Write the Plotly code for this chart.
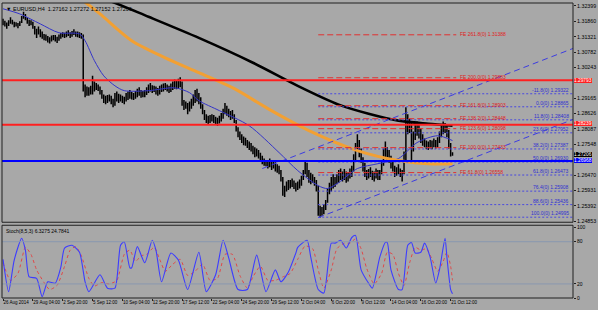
import plotly.graph_objects as go

# ---------------- data (EURUSD H4, bar index 0 = 26 Aug 2014 08:00) ----------------
bar_low = [
    1.3172, 1.3168, 1.3160, 1.3170,
    1.3178, 1.3175, 1.3165, 1.3168, 1.3162, 1.3170,
    1.3180, 1.3195, 1.3190, 1.3178, 1.3170, 1.3172,
    1.3160, 1.3140, 1.3128, 1.3140, 1.3130, 1.3125,
    1.3120, 1.3118, 1.3112, 1.3108, 1.3115, 1.3120,
    1.3115, 1.3110, 1.3118, 1.3125, 1.3130, 1.3128,
    1.3130, 1.3135, 1.3128, 1.3132, 1.3138, 1.3132,
    1.3130, 1.3128, 1.3125, 1.2940, 1.2920, 1.2925,
    1.2925, 1.2930, 1.2930, 1.2940, 1.2945, 1.2942,
    1.2930, 1.2915, 1.2900, 1.2895, 1.2900, 1.2905,
    1.2895, 1.2885, 1.2890, 1.2905, 1.2900, 1.2905,
    1.2900, 1.2895, 1.2905, 1.2910, 1.2915, 1.2912,
    1.2910, 1.2915, 1.2920, 1.2925, 1.2918, 1.2920,
    1.2920, 1.2928, 1.2935, 1.2940, 1.2935, 1.2938,
    1.2930, 1.2925, 1.2930, 1.2938, 1.2940, 1.2945,
    1.2940, 1.2935, 1.2938, 1.2945, 1.2950, 1.2948,
    1.2950, 1.2955, 1.2890, 1.2875, 1.2880, 1.2860,
    1.2870, 1.2880, 1.2890, 1.2900, 1.2905, 1.2895,
    1.2880, 1.2860, 1.2840, 1.2830, 1.2825, 1.2830,
    1.2835, 1.2830, 1.2825, 1.2820, 1.2828, 1.2835,
    1.2845, 1.2860, 1.2855, 1.2850, 1.2840, 1.2845,
    1.2830, 1.2800, 1.2780, 1.2770, 1.2760, 1.2752,
    1.2750, 1.2742, 1.2735, 1.2730, 1.2720, 1.2710,
    1.2712, 1.2705, 1.2695, 1.2685, 1.2680, 1.2678,
    1.2670, 1.2675, 1.2665, 1.2670, 1.2660, 1.2655,
    1.2650, 1.2625, 1.2575, 1.2570, 1.2590, 1.2595,
    1.2600, 1.2605, 1.2598, 1.2590, 1.2595, 1.2600,
    1.2610, 1.2630, 1.2650, 1.2640, 1.2620, 1.2615,
    1.2620, 1.2610, 1.2590, 1.2505, 1.2498, 1.2505,
    1.2510, 1.2525, 1.2550, 1.2580, 1.2590, 1.2600,
    1.2605, 1.2615, 1.2620, 1.2630, 1.2625, 1.2630,
    1.2620, 1.2625, 1.2635, 1.2640, 1.2660, 1.2700,
    1.2730, 1.2710, 1.2690, 1.2660, 1.2640, 1.2630,
    1.2635, 1.2640, 1.2630, 1.2625, 1.2635, 1.2630,
    1.2630, 1.2650, 1.2680, 1.2710, 1.2700, 1.2690,
    1.2670, 1.2660, 1.2640, 1.2645, 1.2650, 1.2640,
    1.2625, 1.2650, 1.2700, 1.2790, 1.2795, 1.2700,
    1.2730, 1.2770, 1.2785, 1.2775, 1.2760, 1.2750,
    1.2745, 1.2738, 1.2735, 1.2740, 1.2738, 1.2745,
    1.2740, 1.2745, 1.2760, 1.2780, 1.2790, 1.2795,
    1.2780, 1.2740, 1.2712, 1.2715,
]
bar_high = [
    1.3195, 1.3188, 1.3182, 1.3190,
    1.3200, 1.3192, 1.3185, 1.3183, 1.3180, 1.3186,
    1.3205, 1.3220, 1.3212, 1.3200, 1.3192, 1.3190,
    1.3185, 1.3170, 1.3160, 1.3168, 1.3158, 1.3150,
    1.3142, 1.3140, 1.3135, 1.3130, 1.3136, 1.3138,
    1.3138, 1.3132, 1.3140, 1.3145, 1.3148, 1.3146,
    1.3150, 1.3155, 1.3148, 1.3152, 1.3158, 1.3150,
    1.3150, 1.3148, 1.3145, 1.3140, 1.2965, 1.2958,
    1.2955, 1.2960, 1.2995, 1.2975, 1.2970, 1.2965,
    1.2958, 1.2945, 1.2930, 1.2925, 1.2928, 1.2930,
    1.2925, 1.2915, 1.2935, 1.2940, 1.2932, 1.2930,
    1.2925, 1.2922, 1.2935, 1.2940, 1.2945, 1.2938,
    1.2935, 1.2942, 1.2950, 1.2955, 1.2945, 1.2942,
    1.2945, 1.2955, 1.2965, 1.2970, 1.2962, 1.2960,
    1.2958, 1.2952, 1.2960, 1.2965, 1.2968, 1.2970,
    1.2965, 1.2960, 1.2968, 1.2975, 1.2982, 1.2978,
    1.2985, 1.2990, 1.2975, 1.2910, 1.2905, 1.2900,
    1.2905, 1.2915, 1.2930, 1.2945, 1.2950, 1.2935,
    1.2920, 1.2895, 1.2875, 1.2860, 1.2855, 1.2858,
    1.2860, 1.2858, 1.2852, 1.2848, 1.2855, 1.2865,
    1.2880, 1.2900, 1.2890, 1.2880, 1.2872, 1.2875,
    1.2860, 1.2840, 1.2815, 1.2800, 1.2790, 1.2782,
    1.2778, 1.2770, 1.2765, 1.2760, 1.2750, 1.2745,
    1.2740, 1.2735, 1.2725, 1.2715, 1.2705, 1.2700,
    1.2700, 1.2705, 1.2695, 1.2700, 1.2692, 1.2685,
    1.2680, 1.2665, 1.2640, 1.2610, 1.2625, 1.2630,
    1.2630, 1.2635, 1.2628, 1.2620, 1.2625, 1.2632,
    1.2645, 1.2665, 1.2700, 1.2690, 1.2665, 1.2655,
    1.2650, 1.2640, 1.2630, 1.2610, 1.2540, 1.2535,
    1.2545, 1.2560, 1.2600, 1.2620, 1.2640, 1.2650,
    1.2640, 1.2650, 1.2665, 1.2670, 1.2660, 1.2668,
    1.2660, 1.2658, 1.2670, 1.2680, 1.2720, 1.2760,
    1.2790, 1.2770, 1.2740, 1.2710, 1.2690, 1.2665,
    1.2668, 1.2675, 1.2662, 1.2660, 1.2670, 1.2665,
    1.2665, 1.2700, 1.2740, 1.2765, 1.2745, 1.2735,
    1.2715, 1.2695, 1.2680, 1.2675, 1.2685, 1.2670,
    1.2665, 1.2730, 1.2885, 1.2860, 1.2845, 1.2835,
    1.2800, 1.2830, 1.2835, 1.2825, 1.2810, 1.2790,
    1.2775, 1.2768, 1.2765, 1.2770, 1.2768, 1.2775,
    1.2770, 1.2780, 1.2800, 1.2825, 1.2835, 1.2830,
    1.2825, 1.2805, 1.2760, 1.2727,
]

x_tick_bars = [0, 16, 32, 48, 64, 80, 96, 112, 128, 144, 160, 176, 192, 208, 224, 240]
x_tick_labels = ["26 Aug 2014", "29 Aug 04:00", "2 Sep 20:00", "5 Sep 12:00", "10 Sep 04:00",
                 "12 Sep 20:00", "17 Sep 12:00", "22 Sep 04:00", "24 Sep 20:00", "29 Sep 12:00",
                 "2 Oct 04:00", "6 Oct 20:00", "9 Oct 12:00", "14 Oct 04:00", "16 Oct 20:00",
                 "21 Oct 12:00"]
price_ticks = [1.24853, 1.25392, 1.25931, 1.26470, 1.27009, 1.27548, 1.28087, 1.28626,
               1.29165, 1.29704, 1.30243, 1.30782, 1.31321, 1.31860, 1.32399]
# ticks covered by the coloured price boxes on the axis
price_ticks_covered = [1.27009, 1.29704]

ma_black_x = [44, 57, 78, 105, 134, 158, 180, 196, 212, 228, 241]
ma_black = [1.3283, 1.3258, 1.3202, 1.3128, 1.3041, 1.2960, 1.2894, 1.2862, 1.2838, 1.2827, 1.2820]
ma_orange_x = [35, 43, 52, 69, 87, 105, 124, 142, 164, 190, 212, 228, 241]
ma_orange = [1.3293, 1.3258, 1.3212, 1.3118, 1.3058, 1.3006, 1.2950, 1.2880, 1.2803, 1.2733,
             1.2698, 1.2687, 1.2687]
ma_blue_x = [0, 9, 20, 30, 41, 44, 49, 54, 60, 65, 78, 92, 100, 105, 116, 132, 148, 158, 169,
             174, 180, 190, 201, 212, 222, 233, 241]
ma_blue = [1.3230, 1.3212, 1.3177, 1.3146, 1.3142, 1.3118, 1.3048, 1.2995, 1.2960, 1.2943,
           1.2943, 1.2953, 1.2936, 1.2908, 1.2873, 1.2820, 1.2726, 1.2663, 1.2610, 1.2600,
           1.2621, 1.2670, 1.2687, 1.2705, 1.2761, 1.2785, 1.2768]

red_levels = [1.29793, 1.28239]
blue_level = 1.26968
last_price = 1.27206

fib_from_bar = 169
fib_high = 1.28865
fib_low = 1.24995
fib_levels = [-11.8, 0.0, 11.8, 23.6, 38.2, 50.0, 61.8, 76.4, 88.6, 100.0]

fe_from_bar = 169
fe_to_bar = 243
fe_levels = [61.8, 100.0, 123.6, 138.2, 161.8, 200.0, 261.8]
fe_prices = [1.26558, 1.27433, 1.28098, 1.28448, 1.28903, 1.29883, 1.31388]

channel_upper_x = [139, 306]
channel_upper = [1.2670, 1.3092]
channel_lower_x = [169, 306]
channel_lower = [1.2498, 1.2843]

stoch_k_x = [0, 3, 6, 10, 12, 14, 18, 21, 24, 28, 31, 33, 37, 41, 44, 46, 52, 56, 60, 63,
             65, 68, 69, 72, 76, 80, 82, 85, 90, 94, 99, 105, 109, 114, 118, 121, 126, 131, 136, 141,
             146, 149, 153, 157, 158, 163, 165, 169, 172, 176, 178, 181, 184, 187, 189, 192, 196, 198,
             202, 205, 206, 208, 212, 214, 217, 219, 221, 224, 226, 229, 232, 234, 237, 238, 240, 241]
stoch_k = [55, 9, 54, 85, 68, 30, 28, 2, 23, 21, 44, 71, 75, 65, 23, 9, 33, 14, 14, 75,
           80, 43, 43, 73, 50, 82, 68, 23, 64, 54, 12, 65, 9, 33, 82, 57, 12, 12, 61, 9,
           40, 23, 37, 64, 72, 82, 58, 12, 7, 78, 78, 82, 71, 86, 89, 40, 21, 14, 58, 79,
           79, 40, 12, 12, 75, 79, 64, 65, 78, 58, 21, 40, 85, 58, 12, 6]
stoch_d_x = [0, 4, 8, 12, 15, 18, 22, 25, 29, 33, 36, 39, 42, 46, 49, 53, 57, 61, 65, 68,
             71, 74, 77, 81, 84, 87, 91, 95, 99, 103, 107, 111, 115, 119, 123, 127, 131, 134, 138, 142,
             146, 150, 154, 158, 162, 166, 169, 172, 176, 179, 183, 186, 189, 192, 195, 199, 203, 206,
             209, 212, 215, 218, 221, 224, 227, 230, 233, 236, 238, 240, 241]
stoch_d = [50, 25, 35, 72, 62, 40, 22, 12, 18, 45, 68, 73, 60, 28, 17, 22, 20, 25, 62, 68,
           52, 60, 62, 72, 55, 38, 48, 55, 32, 38, 48, 25, 28, 62, 62, 32, 14, 30, 45, 25,
           25, 30, 35, 55, 74, 70, 40, 14, 40, 70, 78, 78, 84, 70, 42, 20, 35, 65, 62, 35,
           18, 50, 72, 68, 70, 55, 38, 52, 65, 45, 25]
stoch_levels = [20, 80]
stoch_ticks = [0, 20, 80, 100]

header_text = "\u25BC EURUSD,H4  1.27162 1.27272 1.27152 1.27206"
stoch_text = "Stoch(8,5,3) 6.3275 24.7841"

# ---------------- figure ----------------
X_MIN, X_MAX = -0.55, 305.6
Y_MIN, Y_MAX = 1.24818, 1.32503
MAIN_DOM = [0.2568, 1.0]
STO_DOM = [0.0, 0.2466]
FONT = "Liberation Sans"
BG = "#A8A8A8"

fig = go.Figure()

# price bars (high-low)
bx, by = [], []
for i, (lo, hi) in enumerate(zip(bar_low, bar_high)):
    bx += [i, i, None]
    by += [lo, hi, None]
fig.add_trace(go.Scatter(x=bx, y=by, mode="lines", line=dict(color="black", width=1.5),
                         hoverinfo="skip", yaxis="y"))

# moving averages
fig.add_trace(go.Scatter(x=ma_blue_x, y=ma_blue, mode="lines",
                         line=dict(color="#3434C8", width=1, shape="spline", smoothing=0.8), yaxis="y"))
fig.add_trace(go.Scatter(x=ma_orange_x, y=ma_orange, mode="lines",
                         line=dict(color="#F2A033", width=3, shape="spline", smoothing=0.8), yaxis="y"))
fig.add_trace(go.Scatter(x=ma_black_x, y=ma_black, mode="lines",
                         line=dict(color="#000000", width=2.6, shape="spline", smoothing=0.8), yaxis="y"))

# channel
fig.add_trace(go.Scatter(x=channel_upper_x, y=channel_upper, mode="lines",
                         line=dict(color="#3C3CE0", width=1, dash="6px,4px"), yaxis="y"))
fig.add_trace(go.Scatter(x=channel_lower_x, y=channel_lower, mode="lines",
                         line=dict(color="#3C3CE0", width=1, dash="6px,4px"), yaxis="y"))

annotations = []

# fibonacci retracement
for lvl in fib_levels:
    p = fib_high - lvl / 100.0 * (fib_high - fib_low)
    fig.add_trace(go.Scatter(x=[fib_from_bar, X_MAX], y=[p, p], mode="lines",
                             line=dict(color="#4848E0", width=1, dash="2px,2px"), yaxis="y"))
    annotations.append(dict(xref="paper", x=0.997, yref="y", y=p, xanchor="right", yanchor="bottom",
                            text=f"{lvl:.1f}(0) {p:.5f}", showarrow=False, yshift=-1,
                            font=dict(family=FONT, size=5, color="#3030D0")))

# fibonacci expansion
for lvl, p in zip(fe_levels, fe_prices):
    fig.add_trace(go.Scatter(x=[fe_from_bar, fe_to_bar], y=[p, p], mode="lines",
                             line=dict(color="#E03030", width=1, dash="6px,3px"), yaxis="y"))
    annotations.append(dict(xref="x", x=fe_to_bar + 0.8, yref="y", y=p, xanchor="left", yanchor="middle",
                            text=f"FE {lvl:.1f}(0) {p:.5f}", showarrow=False, yshift=1,
                            font=dict(family=FONT, size=5, color="#E02020")))

# stochastic
fig.add_trace(go.Scatter(x=stoch_d_x, y=stoch_d, mode="lines",
                         line=dict(color="#E04848", width=1, dash="dot", shape="spline", smoothing=0.6),
                         yaxis="y2"))
fig.add_trace(go.Scatter(x=stoch_k_x, y=stoch_k, mode="lines",
                         line=dict(color="#3C3CFF", width=1.1, shape="spline", smoothing=0.6),
                         yaxis="y2"))

shapes = []
for lv in red_levels:
    shapes.append(dict(type="line", xref="paper", x0=0, x1=1, yref="y", y0=lv, y1=lv,
                       line=dict(color="#FF2020", width=2)))
shapes.append(dict(type="line", xref="paper", x0=0, x1=1, yref="y", y0=blue_level, y1=blue_level,
                   line=dict(color="#0000FF", width=2)))
for lv in stoch_levels:
    shapes.append(dict(type="line", xref="paper", x0=0, x1=1, yref="y2", y0=lv, y1=lv,
                       line=dict(color="#8A98B0", width=1)))
# panel frames
shapes.append(dict(type="rect", xref="paper", yref="paper", x0=0, x1=1, y0=MAIN_DOM[0], y1=MAIN_DOM[1],
                   line=dict(color="#202020", width=1)))
shapes.append(dict(type="rect", xref="paper", yref="paper", x0=0, x1=1, y0=STO_DOM[0], y1=STO_DOM[1],
                   line=dict(color="#202020", width=1)))

# price boxes on the axis
for lv, bg, fg, dy in [(red_levels[0], "#FF2020", "white", 0), (red_levels[1], "#FF2020", "white", 1.5),
                       (last_price, "#000000", "white", 0), (blue_level, "#0000FF", "white", 0)]:
    annotations.append(dict(xref="paper", x=1.0, yref="y", y=lv, xanchor="left", yanchor="middle",
                            text=f"{lv:.5f}", showarrow=False, xshift=1, yshift=dy, bgcolor=bg,
                            borderpad=0, borderwidth=0, font=dict(family=FONT, size=4.8, color=fg)))

annotations.append(dict(xref="paper", x=0.004, yref="paper", y=1.0, xanchor="left", yanchor="top",
                        text=header_text, showarrow=False, yshift=-1,
                        font=dict(family=FONT, size=5.5, color="black")))
annotations.append(dict(xref="paper", x=0.004, yref="paper", y=STO_DOM[1], xanchor="left", yanchor="top",
                        text=stoch_text, showarrow=False, yshift=-1,
                        font=dict(family=FONT, size=5, color="black")))

fig.update_layout(
    width=598, height=310,
    margin=dict(l=2, r=22, t=2, b=12),
    paper_bgcolor=BG, plot_bgcolor=BG,
    showlegend=False,
    hovermode=False,
    shapes=shapes,
    annotations=annotations,
    xaxis=dict(range=[X_MIN, X_MAX], anchor="y2", tickvals=x_tick_bars, ticktext=x_tick_labels,
               tickangle=0, ticks="outside", ticklen=2, tickcolor="#202020", showgrid=False,
               zeroline=False, ticklabelposition="outside right",
               tickfont=dict(family=FONT, size=4.5, color="black")),
    yaxis=dict(domain=MAIN_DOM, range=[Y_MIN, Y_MAX], side="right", anchor="x",
               tickvals=price_ticks,
               ticktext=["" if v in price_ticks_covered else f"{v:.5f}" for v in price_ticks],
               ticks="outside", ticklen=2, tickcolor="#202020", showgrid=False, zeroline=False,
               tickfont=dict(family=FONT, size=5.3, color="black")),
    yaxis2=dict(domain=STO_DOM, range=[0, 103.4], side="right", anchor="x",
                tickvals=stoch_ticks, ticktext=[str(v) for v in stoch_ticks],
                ticks="outside", ticklen=2, tickcolor="#202020", showgrid=False, zeroline=False,
                tickfont=dict(family=FONT, size=5, color="black")),
)

fig.write_html("out.html")
